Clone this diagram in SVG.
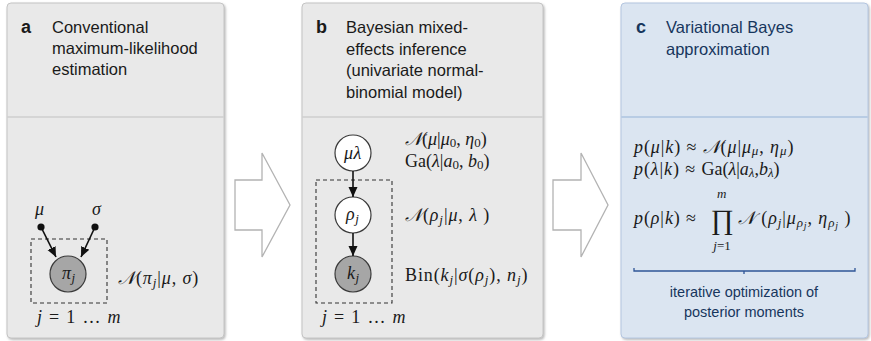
<svg xmlns="http://www.w3.org/2000/svg" width="871" height="341" viewBox="0 0 871 341">
<style>
.panel{stroke:#c4c4c4;stroke-width:1}
.pg{fill:#e9e9e9}
.pb{fill:#dbe5f1;stroke:#b4c6e0}
.div{stroke:#c2c2c2;stroke-width:1.2}
.divb{stroke:#95b3d7;stroke-width:1.2}
.lab{font-family:"Liberation Sans",Arial,sans-serif;font-size:18px;font-weight:bold;fill:#1a1a1a}
.ttl{font-family:"Liberation Sans",Arial,sans-serif;font-size:16.5px;fill:#1a1a1a}
.navy{fill:#17365d}
.m{font-family:"Liberation Serif","DejaVu Serif",serif;font-size:18px;letter-spacing:0.5px;fill:#1a1a1a}
.w{letter-spacing:0.9px}
.n{letter-spacing:0}
.jm{letter-spacing:1.3px}
.s{font-size:13px}
.ss{font-size:10px}
.i{font-style:italic}
.node{stroke:#3a3a3a;stroke-width:1.2}
.obs{fill:#a6a6a6}
.lat{fill:#ffffff}
.plate{fill:none;stroke:#333;stroke-width:1.1;stroke-dasharray:4 3}
.edge{stroke:#111;stroke-width:1.6;fill:none}
.big{fill:#ffffff;stroke:#b3b3b3;stroke-width:1.3}
.note{font-family:"Liberation Sans",Arial,sans-serif;font-size:14.5px;fill:#17365d}
</style>
<defs>
<filter id="sh" x="-5%" y="-5%" width="110%" height="110%">
<feDropShadow dx="1.2" dy="1.5" stdDeviation="1.2" flood-color="#8a8a8a" flood-opacity="0.6"/>
</filter>
<marker id="ah" markerUnits="userSpaceOnUse" markerWidth="10" markerHeight="10" refX="10" refY="5" orient="auto" viewBox="0 0 10 10">
<path d="M0,0.5 L10,5 L0,9.5 z" fill="#111"/>
</marker>
</defs>

<!-- panels -->
<g id="panel-a">
<rect class="panel pg" x="7" y="3" width="217" height="335" rx="4" filter="url(#sh)"/>
<line class="div" x1="7.5" y1="117" x2="223.5" y2="117"/>
<text class="lab" x="21" y="33">a</text>
<text class="ttl" x="52" y="33">Conventional</text>
<text class="ttl" x="52" y="54">maximum-likelihood</text>
<text class="ttl" x="52" y="75">estimation</text>
</g>
<g id="panel-b">
<rect class="panel pg" x="302" y="3" width="241" height="335" rx="4" filter="url(#sh)"/>
<line class="div" x1="302.5" y1="117" x2="542.5" y2="117"/>
<text class="lab" x="316" y="33">b</text>
<text class="ttl" x="346" y="33">Bayesian mixed-</text>
<text class="ttl" x="346" y="54.5">effects inference</text>
<text class="ttl" x="346" y="76">(univariate normal-</text>
<text class="ttl" x="346" y="97.5">binomial model)</text>
</g>
<g id="panel-c">
<rect class="panel pb" x="621" y="3" width="247" height="335" rx="4" filter="url(#sh)"/>
<line class="divb" x1="621.5" y1="117" x2="867.5" y2="117"/>
<text class="lab navy" x="636" y="33">c</text>
<text class="ttl navy" x="666" y="33">Variational Bayes</text>
<text class="ttl navy" x="666" y="54.5">approximation</text>
</g>

<!-- big arrows -->
<g id="arrow-ab"><polygon class="big" points="235,180 262,180 262,153 290,205 262,257 262,230 235,230"/></g>
<g id="arrow-bc"><polygon class="big" points="553,180 581,180 581,153 608,205 581,257 581,230 553,230"/></g>

<!-- panel a graph -->
<g id="a-mu">
<circle cx="41" cy="227" r="3.6" fill="#111"/>
<text class="m i" x="35" y="215">μ</text>
</g>
<g id="a-sigma">
<circle cx="95" cy="227" r="3.6" fill="#111"/>
<text class="m i" x="92" y="215">σ</text>
</g>
<g id="a-plate">
<rect class="plate" x="31" y="239" width="76" height="64"/>
<text class="m jm" x="37" y="323"><tspan class="i">j</tspan> = 1 … <tspan class="i">m</tspan></text>
</g>
<g id="a-pi">
<circle class="node obs" cx="68" cy="274" r="18"/>
<text class="m i" x="62" y="279">π<tspan class="s" dy="3">j</tspan></text>
<text class="m w" x="118" y="284"><tspan class="i">𝒩</tspan>(<tspan class="i">π</tspan><tspan class="i s" dy="3">j</tspan><tspan dy="-3">|</tspan><tspan class="i">μ</tspan>, <tspan class="i">σ</tspan>)</text>
</g>

<!-- panel b graph -->
<g id="b-mulambda">
<circle class="node lat" cx="353" cy="153" r="18"/>
<text class="m i" x="353" y="159" text-anchor="middle">μλ</text>
<text class="m n" x="405" y="145"><tspan class="i">𝒩</tspan>(<tspan class="i">μ</tspan>|<tspan class="i">μ</tspan><tspan class="s" dy="2">0</tspan><tspan dy="-2">, </tspan><tspan class="i">η</tspan><tspan class="s" dy="2">0</tspan><tspan dy="-2">)</tspan></text>
<text class="m n" x="405" y="167">Ga(<tspan class="i">λ</tspan>|<tspan class="i">a</tspan><tspan class="s" dy="2">0</tspan><tspan dy="-2">, </tspan><tspan class="i">b</tspan><tspan class="s" dy="2">0</tspan><tspan dy="-2">)</tspan></text>
</g>
<g id="b-plate">
<rect class="plate" x="316" y="180" width="76" height="123"/>
<text class="m jm" x="322" y="323"><tspan class="i">j</tspan> = 1 … <tspan class="i">m</tspan></text>
</g>
<g id="b-rho">
<circle class="node lat" cx="353" cy="215" r="18"/>
<text class="m i" x="346" y="220">ρ<tspan class="s" dy="3">j</tspan></text>
<text class="m w" x="405" y="221"><tspan class="i">𝒩</tspan>(<tspan class="i">ρ</tspan><tspan class="i s" dy="3">j</tspan><tspan dy="-3">|</tspan><tspan class="i">μ</tspan>, <tspan class="i">λ</tspan> )</text>
</g>
<g id="b-k">
<circle class="node obs" cx="353" cy="274" r="18"/>
<text class="m i" x="347" y="279">k<tspan class="s" dy="3">j</tspan></text>
<text class="m w" x="405" y="281">Bin(<tspan class="i">k</tspan><tspan class="i s" dy="3">j</tspan><tspan dy="-3">|</tspan><tspan class="i">σ</tspan>(<tspan class="i">ρ</tspan><tspan class="i s" dy="3">j</tspan><tspan dy="-3">), </tspan><tspan class="i">n</tspan><tspan class="i s" dy="3">j</tspan><tspan dy="-3">)</tspan></text>
</g>

<!-- connectors -->
<g id="connectors">
<line class="edge" x1="41" y1="227" x2="56" y2="257" marker-end="url(#ah)"/>
<line class="edge" x1="95" y1="227" x2="81" y2="257" marker-end="url(#ah)"/>
<line class="edge" x1="353" y1="171" x2="353" y2="197" marker-end="url(#ah)"/>
<line class="edge" x1="353" y1="233" x2="353" y2="256" marker-end="url(#ah)"/>
</g>

<!-- panel c content -->
<g id="c-formulas">
<text class="m w" x="634" y="153"><tspan class="i">p</tspan>(<tspan class="i">μ</tspan>|<tspan class="i">k</tspan>) ≈ <tspan class="i">𝒩</tspan>(<tspan class="i">μ</tspan>|<tspan class="i">μ</tspan><tspan class="i s" dy="2">μ</tspan><tspan dy="-2">, </tspan><tspan class="i">η</tspan><tspan class="i s" dy="2">μ</tspan><tspan dy="-2">)</tspan></text>
<text class="m w" x="634" y="175"><tspan class="i">p</tspan>(<tspan class="i">λ</tspan>|<tspan class="i">k</tspan>) ≈ <tspan class="n">Ga(</tspan><tspan class="i n">λ</tspan><tspan class="n">|</tspan><tspan class="i n">a</tspan><tspan class="i s n" dy="2">λ</tspan><tspan class="n" dy="-2">,</tspan><tspan class="i n">b</tspan><tspan class="i s n" dy="2">λ</tspan><tspan class="n" dy="-2">)</tspan></text>
<text class="m w" x="634" y="224"><tspan class="i">p</tspan>(<tspan class="i">ρ</tspan>|<tspan class="i">k</tspan>) ≈</text>
<text class="m" x="722" y="229" text-anchor="middle" style="font-size:28px;letter-spacing:0">∏</text>
<text class="m i" x="722" y="198" text-anchor="middle" style="font-size:13px">m</text>
<text class="m" x="722" y="250" text-anchor="middle" style="font-size:13px;letter-spacing:0"><tspan class="i">j</tspan>=1</text>
<text class="m w" x="738" y="224"><tspan class="i">𝒩</tspan> (<tspan class="i">ρ</tspan><tspan class="i s" dy="3">j</tspan><tspan dy="-3">|</tspan><tspan class="i">μ</tspan><tspan class="i s" dy="3">ρ</tspan><tspan class="i ss" dy="2">j</tspan><tspan dy="-5">, </tspan><tspan class="i">η</tspan><tspan class="i s" dy="3">ρ</tspan><tspan class="i ss" dy="2">j</tspan><tspan dy="-5"> )</tspan></text>
</g>
<g id="c-bracket">
<path d="M634,268 V271 H855 V268 M744,271 V274" fill="none" stroke="#2f5597" stroke-width="1.3"/>
<text class="note" x="744" y="297" text-anchor="middle">iterative optimization of</text>
<text class="note" x="744" y="317" text-anchor="middle">posterior moments</text>
</g>
</svg>
